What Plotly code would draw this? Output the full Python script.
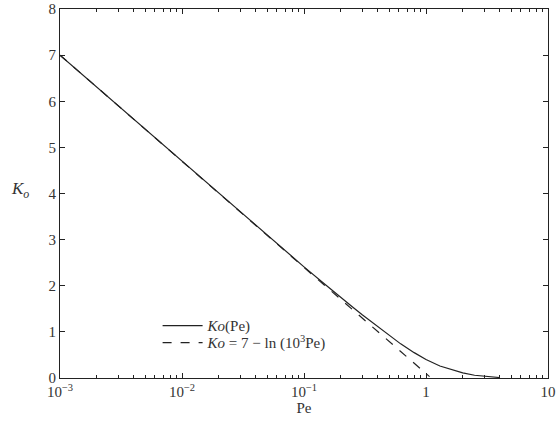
import plotly.graph_objects as go

pe_ko = [0.001, 0.003, 0.01, 0.03, 0.05, 0.1, 0.15, 0.2, 0.25, 0.3, 0.4, 0.5, 0.62, 0.8, 1.0, 1.3, 1.6, 2.0, 2.5, 3.0, 3.5, 4.0]
ko_vals = [7.0, 5.90, 4.70, 3.60, 3.09, 2.41, 2.02, 1.74, 1.54, 1.37, 1.12, 0.93, 0.74, 0.55, 0.40, 0.26, 0.18, 0.11, 0.06, 0.035, 0.02, 0.01]

pe_asym = [0.001, 1.07]
ko_asym = [7.0, 0.03]

x_ticks = [0.001, 0.01, 0.1, 1, 10]
x_ticktext = ["10<sup>−3</sup>", "10<sup>−2</sup>", "10<sup>−1</sup>", "1", "10"]
y_ticks = [0, 1, 2, 3, 4, 5, 6, 7, 8]

FONT = "Liberation Serif"
INK = "#222222"
TXT = "#333333"

fig = go.Figure()
fig.add_trace(go.Scatter(x=pe_ko, y=ko_vals, mode="lines", line=dict(color=INK, width=1.2),
                         name="<i>Ko</i>(Pe)", legend="legend"))
fig.add_trace(go.Scatter(x=pe_asym, y=ko_asym, mode="lines", line=dict(color=INK, width=1.2, dash="dash"),
                         name="<i>Ko</i> = 7 − ln (10<sup>3</sup>Pe)", legend="legend2"))

axis_common = dict(showgrid=False, zeroline=False, showline=True, linecolor=INK, linewidth=1.2,
                   mirror="ticks", ticks="inside", ticklen=5, tickcolor=INK, automargin=False,
                   tickfont=dict(family=FONT, size=15, color=TXT))

fig.update_xaxes(type="log", range=[-3, 1], tickvals=x_ticks, ticktext=x_ticktext,
                 minor=dict(ticks="inside", ticklen=3, tickcolor=INK, dtick="D1"),
                 title=dict(text="Pe", font=dict(family=FONT, size=15, color=TXT), standoff=0),
                 **axis_common)
fig.update_yaxes(range=[0, 8], tickvals=y_ticks, **axis_common)

fig.add_annotation(text="<i>K<sub>o</sub></i>", xref="paper", yref="paper", x=-0.06, y=0.51,
                   showarrow=False, xanchor="right", font=dict(family=FONT, size=17, color=TXT))

leg_common = dict(xanchor="left", yanchor="top", bgcolor="rgba(0,0,0,0)",
                  font=dict(family=FONT, size=15, color=TXT), itemwidth=40)

fig.update_layout(
    width=556, height=422,
    margin=dict(l=60, r=8, t=9, b=44),
    paper_bgcolor="white", plot_bgcolor="white",
    showlegend=True,
    legend=dict(x=0.2, y=0.186, **leg_common),
    legend2=dict(x=0.2, y=0.14, **leg_common),
)

fig.write_html("out.html")
